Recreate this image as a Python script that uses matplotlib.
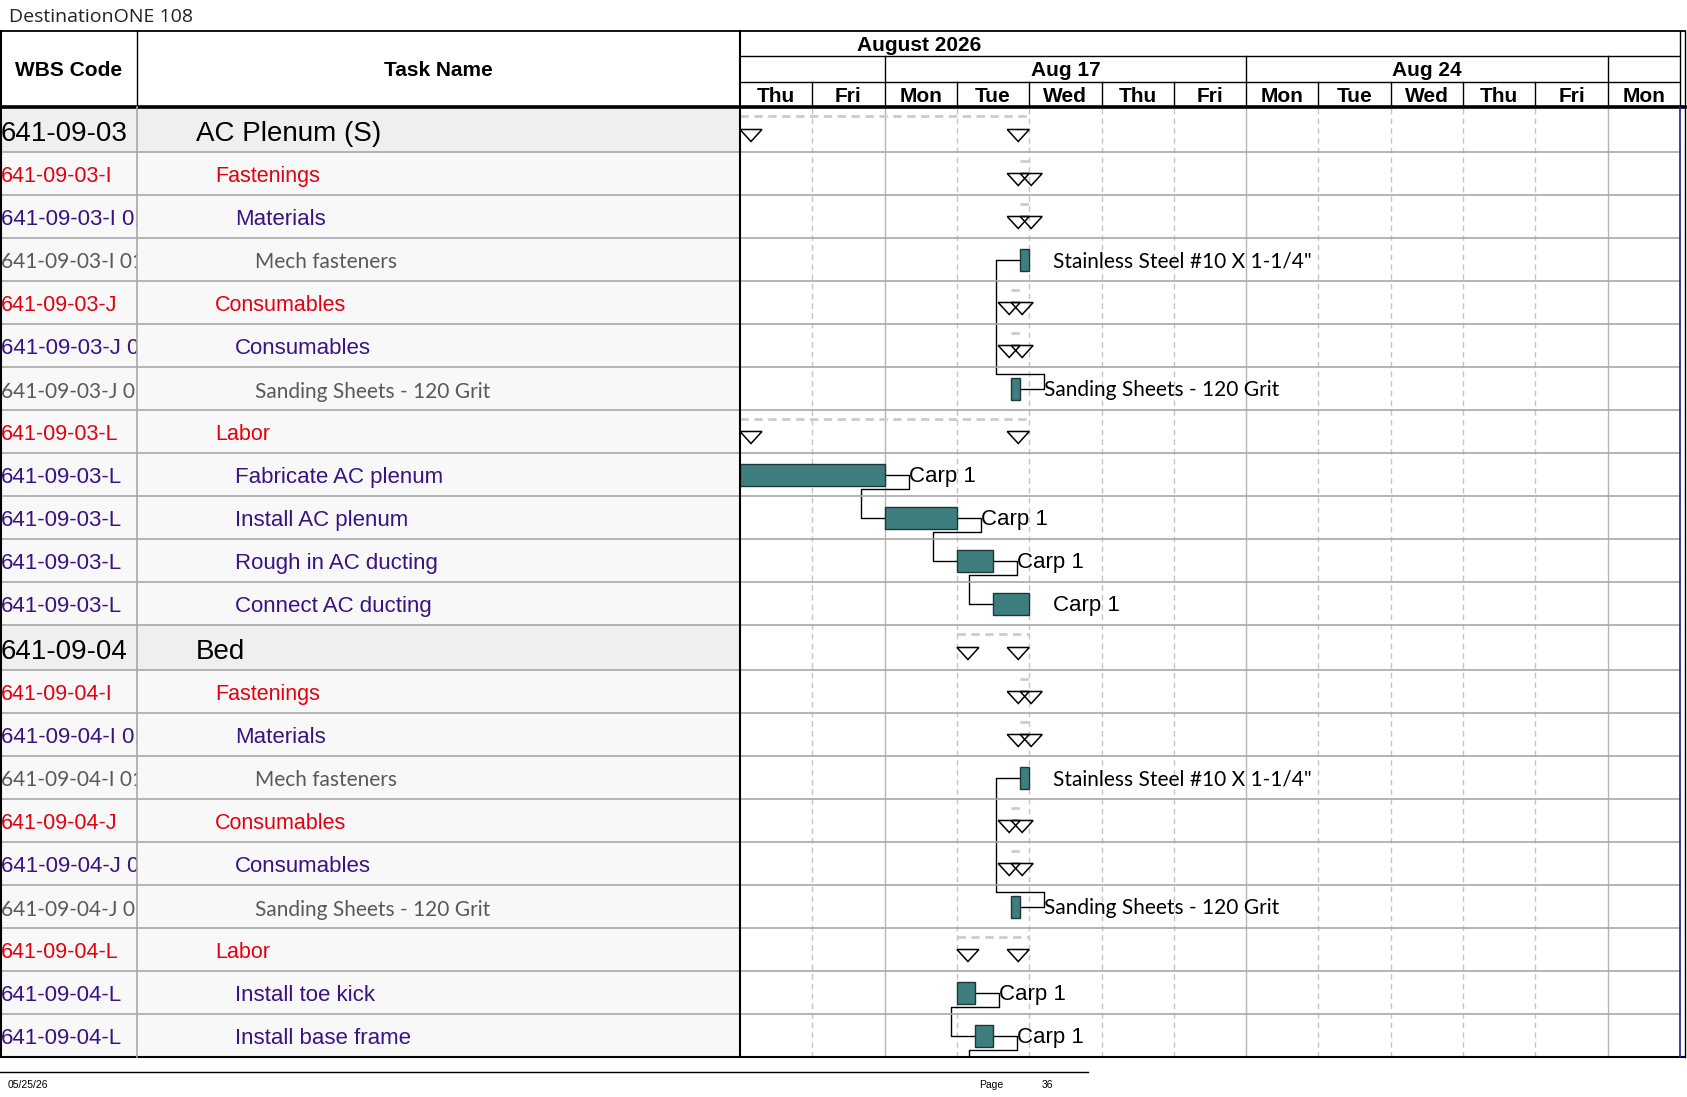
import matplotlib
matplotlib.use("Agg")
import matplotlib.pyplot as plt
from matplotlib.patches import Polygon, Rectangle
import numpy as np

# ---------------- data ----------------
title = "DestinationONE 108"
footer_date = "05/25/26"
page_label = "Page"
page_no = "36"
month_label = "August 2026"
day_labels = ["Thu", "Fri", "Mon", "Tue", "Wed", "Thu", "Fri",
              "Mon", "Tue", "Wed", "Thu", "Fri", "Mon"]
week_labels = ["Aug 17", "Aug 24"]

wbs_codes = [
    "641-09-03", "641-09-03-I", "641-09-03-I 01", "641-09-03-I 01 01",
    "641-09-03-J", "641-09-03-J 01", "641-09-03-J 01 01", "641-09-03-L",
    "641-09-03-L", "641-09-03-L", "641-09-03-L", "641-09-03-L",
    "641-09-04", "641-09-04-I", "641-09-04-I 01", "641-09-04-I 01 01",
    "641-09-04-J", "641-09-04-J 01", "641-09-04-J 01 01", "641-09-04-L",
    "641-09-04-L", "641-09-04-L",
]
task_names = [
    "AC Plenum (S)", "Fastenings", "Materials", "Mech fasteners",
    "Consumables", "Consumables", "Sanding Sheets - 120 Grit", "Labor",
    "Fabricate AC plenum", "Install AC plenum", "Rough in AC ducting", "Connect AC ducting",
    "Bed", "Fastenings", "Materials", "Mech fasteners",
    "Consumables", "Consumables", "Sanding Sheets - 120 Grit", "Labor",
    "Install toe kick", "Install base frame",
]
levels = [1, 2, 3, 4, 2, 3, 4, 2, 3, 3, 3, 3,
          1, 2, 3, 4, 2, 3, 4, 2, 3, 3]
kinds = ["S", "S", "S", "T", "S", "S", "T", "S", "T", "T", "T", "T",
         "S", "S", "S", "T", "S", "S", "T", "S", "T", "T"]
# working days from Thu Aug 13, 2026
starts = [0, 3.875, 3.875, 3.875, 3.75, 3.75, 3.75, 0, 0, 2, 3, 3.5,
          3, 3.875, 3.875, 3.875, 3.75, 3.75, 3.75, 3, 3, 3.25]
finishes = [4, 4, 4, 4, 3.875, 3.875, 3.875, 4, 2, 3, 3.5, 4,
            4, 4, 4, 4, 3.875, 3.875, 3.875, 4, 3.25, 3.5]
bar_labels = ["", "", "", 'Stainless Steel #10 X 1-1/4"', "", "", "Sanding Sheets - 120 Grit", "",
              "Carp 1", "Carp 1", "Carp 1", "Carp 1",
              "", "", "", 'Stainless Steel #10 X 1-1/4"', "", "", "Sanding Sheets - 120 Grit", "",
              "Carp 1", "Carp 1"]
links = [(6, 3), (8, 9), (9, 10), (10, 11), (18, 15), (20, 21), (21, 22)]
next_page_start = 3.5   # start of the successor that continues on the next page

# ---------------- layout ----------------
W, H = 1687, 1097
fig = plt.figure(figsize=(W / 100, H / 100), dpi=100)
fig.patch.set_facecolor("white")

ARIAL = ["Liberation Sans", "DejaVu Sans"]
CALI = ["Lato", "DejaVu Sans"]

X_WBS, X_NAME, X_TL, X_TR, X_END = 0, 137, 740, 1680, 1685
Y_TOP, Y_HDR = 31, 107
TXT_DY = 3

n = len(task_names)
row_h = np.array([45 if lv == 1 else 43 for lv in levels], dtype=float)
tops = np.concatenate([[0.0], np.cumsum(row_h)[:-1]])
mids = tops + row_h / 2
body_h = row_h.sum()
Y_BOT = Y_HDR + body_h


def ax_rect(x0, y0, x1, y1, **kw):
    return fig.add_axes([x0 / W, 1 - y1 / H, (x1 - x0) / W, (y1 - y0) / H], **kw)


ax_w = ax_rect(X_WBS, Y_HDR, X_NAME, Y_BOT)
ax_n = ax_rect(X_NAME, Y_HDR, X_TL, Y_BOT)
ax_g = ax_rect(X_TL, Y_HDR, X_TR, Y_BOT)
ax_h = ax_rect(X_TL, Y_TOP, X_TR, Y_HDR, sharex=ax_g)
ax_o = ax_rect(0, 0, W, H)
for a in (ax_w, ax_n, ax_g, ax_h, ax_o):
    a.set_axis_off()
ax_o.set_xlim(0, W)
ax_o.set_ylim(H, 0)
ax_o.patch.set_alpha(0)
ax_o.set_zorder(10)

ncol = len(day_labels)
ax_g.set_xlim(0, ncol)
ax_g.set_ylim(body_h, 0)
ax_h.set_ylim(Y_HDR - Y_TOP, 0)
ax_w.set_xlim(0, X_NAME - X_WBS)
ax_w.set_ylim(body_h, 0)
ax_n.set_xlim(0, X_TL - X_NAME)
ax_n.set_ylim(body_h, 0)

style = {
    1: dict(size=20, color="black", fam=ARIAL, indent=59),
    2: dict(size=15.5, color="#E3000F", fam=ARIAL, indent=78),
    3: dict(size=16, color="#3A1283", fam=ARIAL, indent=98),
    4: dict(size=15, color="#595959", fam=CALI, indent=118),
}

# ---------------- table ----------------
for i in range(n):
    bg = "#EFEFEF" if levels[i] == 1 else "#F8F8F8"
    ax_w.add_patch(Rectangle((0, tops[i]), X_NAME, row_h[i], fc=bg, ec="none"))
    ax_n.add_patch(Rectangle((0, tops[i]), X_TL - X_NAME, row_h[i], fc=bg, ec="none"))
    st = style[levels[i]]
    dy = TXT_DY + (1.5 if levels[i] == 1 else 0)
    ax_w.text(1, mids[i] + dy, wbs_codes[i], fontsize=st["size"], color=st["color"],
              family=st["fam"], va="center", ha="left", clip_on=True)
    ax_n.text(st["indent"], mids[i] + dy, task_names[i], fontsize=st["size"], color=st["color"],
              family=st["fam"], va="center", ha="left", clip_on=True)

# ---------------- timeline grid ----------------
for k in range(1, ncol):
    if day_labels[k] == "Mon":
        ax_g.axvline(k, color="#B4B4B4", lw=1, zorder=1)
    else:
        ax_g.axvline(k, color="#C4C4C4", lw=1, dashes=(4, 3), zorder=1)

# ---------------- gantt marks ----------------
px_per_day = (X_TR - X_TL) / ncol
d_off = 24 / px_per_day
tri_w = 22 / px_per_day
tri_h = 12

for i in range(n):
    s, f, m = starts[i], finishes[i], mids[i]
    if kinds[i] == "S":
        ax_g.plot([s, f], [tops[i] + 9, tops[i] + 9], color="#CCCCCC", lw=2,
                  dashes=(3, 2), solid_capstyle="butt", zorder=2)
        ax_g.add_patch(Polygon([[s, m], [s + tri_w, m], [s + tri_w / 2, m + tri_h]],
                               closed=True, fc="none", ec="black", lw=1.1, zorder=4))
        ax_g.add_patch(Polygon([[f - tri_w, m], [f, m], [f - tri_w / 2, m + tri_h]],
                               closed=True, fc="none", ec="black", lw=1.1, zorder=4))
    else:
        ax_g.add_patch(Rectangle((s, m - 11), f - s, 22, fc="#3E7E7E", ec="#1D3737",
                                 lw=1, zorder=4))
        if bar_labels[i]:
            cali = levels[i] == 4
            ax_g.text(f + d_off, m + 2, bar_labels[i], fontsize=15 if cali else 16,
                      family=CALI if cali else ARIAL,
                      color="black", va="center", ha="left", zorder=5)

for p, s_i in links:
    pe, yp = finishes[p], mids[p]
    if s_i < n:
        ss, ys = starts[s_i], mids[s_i]
    else:
        ss, ys = next_page_start, body_h + 30
    ymid = yp + 14 if ys > yp else yp - 15
    ax_g.plot([pe, pe + d_off, pe + d_off, ss - d_off, ss - d_off, ss],
              [yp, yp, ymid, ymid, ys, ys], color="black", lw=1, zorder=3)

# ---------------- timeline header ----------------
hb = Y_HDR - Y_TOP
r1, r2 = 25, 51
ax_h.plot([0, ncol], [r1, r1], color="black", lw=1)
ax_h.plot([0, ncol], [r2, r2], color="black", lw=1)
ax_h.text(2.48, r1 / 2 + 2, month_label, fontsize=15, fontweight="bold", family=ARIAL,
          ha="center", va="center")
mon_idx = [k for k, dl in enumerate(day_labels) if dl == "Mon"]
for k in range(1, ncol):
    top = r1 if k in mon_idx else r2
    ax_h.plot([k, k], [top, hb], color="black", lw=1)
for j, lab in enumerate(week_labels):
    a, b = mon_idx[j], mon_idx[j + 1]
    ax_h.text((a + b) / 2, (r1 + r2) / 2 + 2, lab, fontsize=15, fontweight="bold",
              family=ARIAL, ha="center", va="center")
for k, dl in enumerate(day_labels):
    ax_h.text(k + 0.5, (r2 + hb) / 2 + 1.5, dl, fontsize=15, fontweight="bold",
              family=ARIAL, ha="center", va="center")

# ---------------- frame lines ----------------
L = ax_o.plot
for i in range(1, n):
    y = Y_HDR + tops[i]
    L([0, X_TR], [y, y], color="#A8A8A8", lw=1.2)
L([0, X_END], [Y_TOP, Y_TOP], color="black", lw=1.3)
L([0, X_END], [Y_HDR, Y_HDR], color="black", lw=2.6)
L([0, X_END], [Y_BOT, Y_BOT], color="black", lw=1.5)
L([1, 1], [Y_TOP, Y_BOT], color="black", lw=1.5)
L([X_NAME, X_NAME], [Y_TOP, Y_HDR], color="black", lw=1)
L([X_NAME, X_NAME], [Y_HDR, Y_BOT], color="#A8A8A8", lw=1.2)
L([X_TL, X_TL], [Y_TOP, Y_BOT], color="black", lw=1.5)
L([X_TR, X_TR], [Y_TOP, Y_HDR], color="black", lw=1)
L([X_TR, X_TR], [Y_HDR, Y_BOT], color="#1A1AA0", lw=1.2)
L([X_END, X_END], [Y_TOP, Y_BOT], color="black", lw=1)

ax_o.text((X_WBS + X_NAME) / 2, 71, "WBS Code", fontsize=15, fontweight="bold",
          family=ARIAL, ha="center", va="center")
ax_o.text((X_NAME + X_TL) / 2, 71, "Task Name", fontsize=15, fontweight="bold",
          family=ARIAL, ha="center", va="center")

# title and footer
ax_o.text(9, 17, title, fontsize=14, family=["Open Sans", "DejaVu Sans"], color="#222222",
          ha="left", va="center")
L([0, 1088], [1072, 1072], color="black", lw=1)
ax_o.text(8, 1085, footer_date, fontsize=7.5, family=ARIAL, ha="left", va="center")
ax_o.text(991, 1085, page_label, fontsize=7.5, family=ARIAL, ha="center", va="center")
ax_o.text(1047, 1085, page_no, fontsize=7.5, family=ARIAL, ha="center", va="center")

fig.savefig("out.png", dpi=100)
